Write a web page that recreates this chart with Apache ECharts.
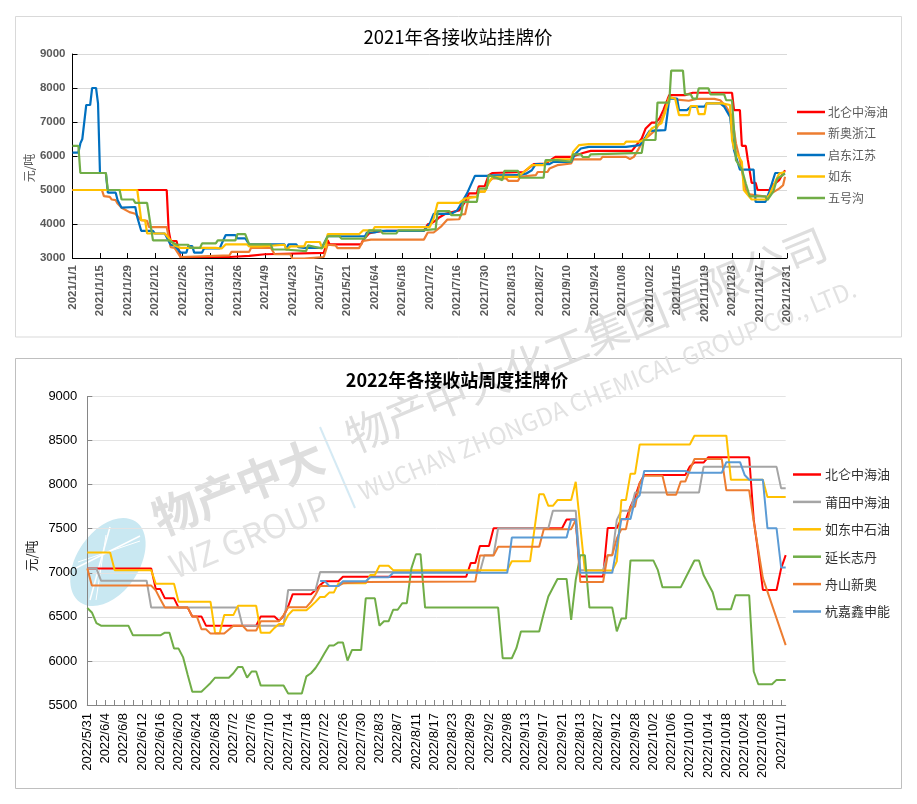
<!DOCTYPE html>
<html><head><meta charset="utf-8">
<script src="https://cdn.jsdelivr.net/npm/echarts@6/dist/echarts.min.js"></script>
<style>html,body{margin:0;padding:0;background:#fff}#c{width:917px;height:804px}</style>
</head><body><div id="c"></div>
<script>
const title2021 = '2021年各接收站挂牌价';
const title2022 = '2022年各接收站周度挂牌价';
const unit = '元/吨';
const ticks2021 = ['2021/1/1','2021/1/15','2021/1/29','2021/2/12','2021/2/26','2021/3/12','2021/3/26','2021/4/9','2021/4/23','2021/5/7','2021/5/21','2021/6/4','2021/6/18','2021/7/2','2021/7/16','2021/7/30','2021/8/13','2021/8/27','2021/9/10','2021/9/24','2021/10/8','2021/10/22','2021/11/5','2021/11/19','2021/12/3','2021/12/17','2021/12/31'];
const ticks2022 = ['2022/5/31','2022/6/4','2022/6/8','2022/6/12','2022/6/16','2022/6/20','2022/6/24','2022/6/28','2022/7/2','2022/7/6','2022/7/10','2022/7/14','2022/7/18','2022/7/22','2022/7/26','2022/7/30','2022/8/3','2022/8/7','2022/8/11','2022/8/17','2022/8/23','2022/8/29','2022/9/2','2022/9/8','2022/9/13','2022/9/17','2022/9/21','2022/8/13','2022/8/27','2022/9/12','2022/9/28','2022/10/2','2022/10/6','2022/10/10','2022/10/14','2022/10/18','2022/10/24','2022/10/28','2022/11/1'];

// 2021: [day index, yuan/ton] at each visible turning point
const beilun21 = [[0,5000],[48,5000],[49,3810],[50,3500],[53,3500],[55,3030],[80,3030],[81,3060],[90,3060],[91,3110],[98,3110],[99,3150],[128,3150],[130,3520],[131,3400],[147,3400],[148,3520],[151,3720],[154,3770],[160,3800],[179,3800],[181,3990],[183,4030],[185,4100],[187,4200],[190,4300],[197,4400],[200,4650],[202,4900],[206,4900],[207,5110],[210,5110],[212,5435],[214,5500],[230,5530],[235,5760],[241,5780],[246,5975],[254,5975],[257,6030],[260,6090],[264,6150],[285,6150],[288,6370],[290,6515],[292,6810],[295,6980],[297,6980],[299,7100],[301,7350],[303,7640],[304,7790],[312,7790],[316,7860],[336,7860],[337,7350],[340,7350],[341,6300],[343,6300],[344,5900],[345,5900],[346,5210],[348,5210],[349,5000],[355,5000],[356,5100],[360,5290],[361,5390],[363,5580]];
const xinao21 = [[0,5000],[15,5000],[16,4820],[19,4800],[20,4720],[22,4700],[23,4600],[25,4480],[29,4350],[32,4300],[35,4110],[38,4090],[39,3910],[48,3910],[50,3320],[52,3300],[55,3030],[80,3080],[81,3180],[90,3180],[91,3300],[101,3300],[103,3110],[111,3110],[112,2980],[118,2980],[119,3030],[128,3030],[130,3390],[134,3370],[135,3290],[146,3290],[148,3500],[152,3540],[179,3540],[181,3750],[184,3750],[188,3940],[191,4130],[197,4140],[198,4280],[200,4290],[202,4800],[206,4800],[207,4950],[210,4950],[212,5240],[214,5340],[221,5340],[222,5270],[227,5270],[228,5390],[236,5435],[237,5530],[242,5530],[243,5630],[247,5730],[248,5780],[254,5780],[255,5900],[269,5900],[270,5975],[282,5975],[284,5910],[286,5975],[289,6270],[291,6470],[294,6610],[297,6760],[301,7200],[304,7740],[308,7660],[314,7625],[318,7680],[327,7680],[330,7640],[333,7450],[336,7150],[338,6370],[340,5880],[343,5000],[344,4880],[354,4800],[356,4900],[360,5040],[362,5140],[363,5390]];
const qidong21 = [[0,6100],[3,6100],[4,6370],[5,6500],[6,6500],[7,7500],[9,7500],[10,8000],[12,8000],[13,7550],[14,5500],[17,5500],[18,4920],[22,4920],[23,4700],[25,4480],[32,4500],[33,4200],[35,3800],[41,3800],[42,3720],[47,3720],[50,3390],[52,3370],[55,3160],[58,3160],[59,3350],[61,3350],[62,3160],[66,3160],[67,3280],[75,3280],[76,3420],[78,3670],[83,3670],[84,3580],[88,3580],[90,3400],[108,3400],[109,3250],[110,3400],[114,3400],[115,3320],[118,3300],[119,3340],[127,3300],[130,3640],[149,3640],[150,3750],[154,3750],[157,3800],[179,3800],[182,4010],[184,4300],[193,4300],[196,4400],[197,4500],[201,4900],[205,5415],[212,5415],[214,5430],[227,5435],[231,5480],[234,5580],[236,5760],[243,5760],[245,5830],[254,5830],[256,6050],[259,6220],[263,6270],[282,6270],[283,6300],[289,6320],[292,6560],[294,6740],[302,6760],[303,7200],[304,7690],[308,7690],[309,7350],[313,7350],[315,7450],[322,7450],[323,7550],[330,7550],[332,7450],[335,7150],[337,6170],[338,6120],[340,5600],[347,5600],[348,4650],[353,4650],[355,4950],[358,5500],[363,5500]];
const rudong21 = [[0,5000],[33,5000],[35,4110],[37,4110],[38,3720],[47,3720],[50,3520],[52,3370],[55,3300],[73,3300],[74,3250],[76,3280],[78,3400],[89,3400],[90,3340],[96,3340],[97,3390],[108,3390],[109,3240],[111,3340],[118,3340],[119,3470],[126,3470],[127,3320],[129,3320],[130,3700],[146,3700],[148,3810],[153,3810],[154,3910],[182,3910],[184,4160],[186,4620],[197,4620],[200,4750],[206,4800],[207,4950],[210,4950],[212,5200],[214,5385],[227,5385],[231,5580],[234,5730],[240,5730],[241,5830],[246,5900],[254,5900],[255,6120],[258,6320],[263,6350],[281,6350],[282,6420],[289,6420],[292,6510],[295,6810],[300,6960],[302,7300],[304,7720],[307,7690],[309,7200],[314,7200],[315,7470],[318,7470],[319,7230],[322,7230],[323,7550],[331,7550],[332,7500],[335,7500],[336,6470],[337,6220],[339,6020],[341,5830],[342,5000],[346,4720],[353,4720],[355,4850],[358,5240],[360,5480],[363,5530]];
const wuhaogou21 = [[0,6300],[3,6300],[4,5500],[17,5500],[18,5000],[24,5000],[25,4720],[31,4720],[32,4620],[38,4620],[41,3520],[49,3520],[53,3390],[59,3390],[60,3300],[65,3300],[66,3430],[73,3430],[74,3520],[83,3520],[84,3700],[88,3700],[90,3400],[101,3400],[102,3250],[108,3250],[109,3200],[119,3200],[120,3370],[127,3280],[130,3640],[136,3640],[137,3570],[149,3570],[151,3810],[157,3810],[158,3720],[165,3720],[166,3810],[178,3810],[179,3850],[185,3850],[186,4380],[192,4380],[193,4260],[198,4260],[199,4650],[206,4650],[207,5040],[211,5040],[212,5440],[219,5290],[220,5560],[227,5560],[228,5360],[240,5360],[241,5880],[247,5880],[248,5830],[254,5830],[255,6050],[259,6050],[260,5970],[263,5970],[264,6050],[290,6090],[291,6470],[297,6470],[298,7570],[304,7570],[305,8510],[311,8510],[312,7810],[315,7810],[316,7690],[318,7690],[319,7990],[324,7990],[325,7810],[332,7810],[333,7640],[336,7640],[337,6760],[338,5880],[341,5610],[343,5190],[345,4815],[353,4815],[354,4700],[357,4950],[359,5330],[363,5480]];

// 2022: [category index, yuan/ton] at each visible turning point
const beilun22 = [[0,7050],[14,7050],[15,6815],[16,6815],[17,6710],[19,6710],[20,6605],[22,6605],[23,6505],[25,6505],[26,6400],[37,6400],[38,6505],[41,6505],[42,6455],[43,6510],[44,6620],[45,6757],[49,6757],[50,6805],[51,6860],[52,6905],[55,6905],[56,6955],[83,6955],[84,7110],[85,7110],[86,7305],[88,7305],[89,7505],[104,7505],[105,7605],[107,7605],[108,6957],[113,6957],[114,7508],[116,7508],[117,7607],[118,7607],[119,7750],[120,7863],[121,8015],[122,8110],[131,8110],[132,8205],[133,8250],[135,8250],[136,8310],[145,8310],[146,7600],[147,7220],[148,6805],[151,6805],[152,7050],[153,7200]];
const putian22 = [[0,7050],[2,7050],[3,6910],[13,6910],[14,6605],[33,6605],[34,6400],[43,6400],[44,6805],[50,6805],[51,7010],[86,7010],[87,7200],[89,7200],[90,7505],[101,7505],[102,7705],[107,7705],[108,7030],[113,7030],[114,7200],[115,7200],[116,7600],[117,7705],[119,7705],[120,7910],[134,7910],[135,8202],[151,8202],[152,7958],[153,7958]];
const rudong22 = [[0,7230],[5,7230],[6,7030],[14,7030],[15,6875],[19,6875],[20,6670],[27,6670],[28,6315],[29,6315],[30,6520],[32,6520],[33,6625],[37,6625],[38,6320],[40,6320],[41,6375],[42,6420],[43,6420],[44,6520],[45,6575],[48,6575],[49,6620],[50,6670],[51,6725],[52,6725],[53,6775],[54,6775],[55,6880],[61,6880],[62,6975],[63,6975],[64,7080],[66,7080],[67,7030],[92,7030],[93,7130],[97,7130],[99,7890],[100,7890],[101,7760],[102,7760],[103,7825],[106,7825],[107,8033],[109,7025],[115,7025],[116,7130],[117,7825],[118,7825],[119,8125],[120,8125],[121,8455],[132,8455],[133,8555],[140,8555],[141,8055],[148,8055],[149,7860],[153,7860]];
const yanchang22 = [[0,6600],[1,6550],[2,6430],[3,6400],[9,6400],[10,6290],[16,6290],[17,6320],[18,6320],[19,6140],[20,6140],[21,6040],[22,5840],[23,5650],[25,5650],[26,5700],[27,5750],[28,5810],[31,5810],[32,5860],[33,5930],[34,5930],[35,5810],[36,5880],[37,5880],[38,5720],[43,5720],[44,5630],[47,5630],[48,5825],[49,5860],[50,5920],[51,6000],[52,6090],[53,6175],[54,6175],[55,6210],[56,6210],[57,6005],[58,6125],[60,6125],[61,6710],[63,6710],[64,6400],[65,6450],[66,6450],[67,6580],[68,6580],[69,6655],[70,6655],[71,7050],[72,7210],[73,7210],[74,6605],[90,6605],[91,6030],[93,6030],[94,6145],[95,6335],[99,6335],[100,6540],[101,6730],[103,6930],[105,6930],[106,6465],[107,6920],[108,7200],[109,7200],[110,6605],[115,6605],[116,6335],[117,6480],[118,6480],[119,7140],[124,7140],[125,7030],[126,6835],[130,6835],[133,7140],[134,7140],[135,6975],[137,6780],[138,6585],[141,6585],[142,6745],[145,6745],[146,5880],[147,5735],[150,5735],[151,5785],[153,5785]];
const zhoushan22 = [[0,7050],[1,6855],[14,6855],[15,6800],[16,6700],[17,6605],[22,6605],[23,6505],[24,6505],[25,6360],[26,6360],[27,6310],[30,6310],[32,6400],[34,6400],[35,6345],[37,6345],[38,6450],[42,6450],[43,6520],[44,6610],[48,6610],[49,6670],[50,6750],[51,6850],[55,6850],[56,6880],[61,6895],[85,6900],[86,7195],[89,7195],[90,7295],[99,7295],[100,7495],[106,7495],[107,7600],[108,6895],[113,6895],[114,7200],[115,7200],[116,7390],[117,7495],[118,7495],[119,7750],[120,7750],[121,8015],[122,8100],[126,8100],[127,7885],[129,7885],[130,8035],[131,8035],[132,8165],[133,8290],[139,8290],[140,7935],[145,7935],[146,7580],[147,7260],[148,6940],[153,6180]];
const hangjia22 = [[51,6908],[52,6908],[53,6850],[55,6850],[56,6905],[61,6905],[62,6950],[66,6950],[67,7000],[92,7000],[93,7400],[105,7400],[106,7605],[107,7605],[108,7000],[115,7000],[116,7300],[117,7610],[119,7610],[120,7825],[121,7880],[122,8155],[131,8155],[132,8135],[139,8135],[140,8255],[143,8255],[144,8110],[145,8055],[148,8055],[149,7505],[151,7505],[152,7060],[153,7060]];

const names21 = ['北仑中海油','新奥浙江','启东江苏','如东','五号沟'];
const data21 = [beilun21, xinao21, qidong21, rudong21, wuhaogou21];
const colors21 = ['#FF0000','#ED7D31','#0070C0','#FFC000','#70AD47'];
const names22 = ['北仑中海油','莆田中海油','如东中石油','延长志丹','舟山新奥','杭嘉鑫申能'];
const data22 = [beilun22, putian22, rudong22, yanchang22, zhoushan22, hangjia22];
const colors22 = ['#FF0000','#A5A5A5','#FFC000','#70AD47','#ED7D31','#5B9BD5'];

function spread(labels, step, total) {
  const out = [];
  for (let i = 0; i < total; i++) out.push(i % step === 0 ? (labels[i / step] || '') : '');
  return out;
}
const cats21 = spread(ticks2021, 14, 365);
const cats22 = spread(ticks2022, 4, 154);

const latin = '"Liberation Sans","Noto Sans CJK SC",sans-serif';
const cjk = '"Noto Sans CJK SC",sans-serif';
const plain = v => String(v);
const wm = (text, x, y, size, weight, fill, rot) => ({
  type: 'text', z: -1, silent: true, x, y, rotation: rot * Math.PI / 180,
  style: { text, x: 0, y: 0, fill, align: 'center', verticalAlign: 'middle',
           font: weight + ' ' + size + 'px ' + cjk }
});
const frame = (x, y, w, h, stroke) => ({
  type: 'rect', z: -2, silent: true, shape: { x, y, width: w, height: h },
  style: { fill: '#fff', stroke, lineWidth: 1 }
});
const vtext = (text, x, y, size, fill) => ({
  type: 'text', silent: true, x, y, rotation: Math.PI / 2,
  style: { text, x: 0, y: 0, fill, align: 'center', verticalAlign: 'middle', font: size + 'px ' + cjk }
});

const chart = echarts.init(document.getElementById('c'), null, { renderer: 'canvas' });
chart.setOption({
  animation: false,
  backgroundColor: '#ffffff',
  graphic: { elements: [
    frame(15.5, 16.5, 886, 320.5, '#D9D9D9'),
    frame(15.5, 358.5, 886, 430, '#BFBFBF'),
    { type: 'ellipse', z: -1, silent: true, x: 108, y: 562, rotation: -0.6,
      shape: { cx: 0, cy: 0, rx: 31, ry: 49 }, style: { fill: '#C9E8F2' } },
    { type: 'line', z: -1, silent: true, shape: { x1: 76, y1: 568, x2: 140, y2: 536 }, style: { stroke: '#fff', lineWidth: 1.5 } },
    { type: 'line', z: -1, silent: true, shape: { x1: 78, y1: 562, x2: 140, y2: 541 }, style: { stroke: '#fff', lineWidth: 1 } },
    { type: 'line', z: -1, silent: true, shape: { x1: 90, y1: 600, x2: 110, y2: 527 }, style: { stroke: '#fff', lineWidth: 1.5 } },
    { type: 'line', z: -1, silent: true, shape: { x1: 96, y1: 600, x2: 106, y2: 535 }, style: { stroke: '#fff', lineWidth: 1 } },
    wm('物产中大', 238, 487, 45, 'bold', '#DEDEDE', 22),
    wm('WZ GROUP', 249, 536, 33, 'normal', '#E2E2E2', 22),
    { type: 'line', z: -1, silent: true, shape: { x1: 320, y1: 427, x2: 355, y2: 508 }, style: { stroke: '#D5EAF4', lineWidth: 2 } },
    wm('物产中大化工集团有限公司', 586, 340, 43, 'normal', '#DEDEDE', 22.5),
    wm('WUCHAN ZHONGDA CHEMICAL GROUP CO., LTD.', 607, 390, 24, 'normal', '#E2E2E2', 22.5),
    vtext(unit, 29, 168, 12, '#595959'),
    vtext(unit, 31, 556, 13, '#222222')
  ] },
  title: [
    { text: title2021, left: 458, top: 37, padding: 0, textAlign: 'center', textVerticalAlign: 'middle',
      textStyle: { fontFamily: cjk, fontSize: 18.5, fontWeight: 'normal', color: '#000' } },
    { text: title2022, left: 457, top: 380, padding: 0, textAlign: 'center', textVerticalAlign: 'middle',
      textStyle: { fontFamily: cjk, fontSize: 18, fontWeight: 'bold', color: '#000' } }
  ],
  legend: [
    { data: names21, orient: 'vertical', left: 797, top: 106, padding: 0, itemWidth: 28, itemHeight: 2.5, itemGap: 9.5,
      icon: 'rect', selectedMode: false, textStyle: { fontFamily: cjk, fontSize: 12, color: '#595959', padding: [0,0,0,-2] } },
    { data: names22, orient: 'vertical', left: 793, top: 468, padding: 0, itemWidth: 28, itemHeight: 2.5, itemGap: 14.4,
      icon: 'rect', selectedMode: false, textStyle: { fontFamily: cjk, fontSize: 13, color: '#333333', padding: [0,0,0,-1] } }
  ],
  grid: [
    { left: 72.5, top: 54, width: 714.5, height: 204 },
    { left: 87.3, top: 396.5, width: 698.4, height: 308.5 }
  ],
  xAxis: [
    { type: 'category', gridIndex: 0, data: cats21, boundaryGap: false,
      axisLine: { lineStyle: { color: '#000', width: 1 } },
      axisTick: { inside: true, length: 5, interval: 13, lineStyle: { color: '#000' } },
      axisLabel: { interval: 13, rotate: 90, margin: 7, fontFamily: latin, fontSize: 11.5, fontWeight: 'bold', color: '#595959', hideOverlap: false },
      splitLine: { show: false } },
    { type: 'category', gridIndex: 1, data: cats22, boundaryGap: false,
      axisLine: { lineStyle: { color: '#868686', width: 1 } },
      axisTick: { inside: true, length: 5, interval: 1, lineStyle: { color: '#868686' } },
      axisLabel: { interval: 3, rotate: 90, margin: 8, fontFamily: latin, fontSize: 13, color: '#000', hideOverlap: false },
      splitLine: { show: false } }
  ],
  yAxis: [
    { type: 'value', gridIndex: 0, min: 3000, max: 9000, interval: 1000,
      axisLine: { show: true, lineStyle: { color: '#000', width: 1 } },
      axisTick: { show: true, inside: true, length: 5, lineStyle: { color: '#000' } },
      axisLabel: { margin: 7, formatter: plain, fontFamily: latin, fontSize: 11.5, fontWeight: 'bold', color: '#595959' },
      splitLine: { show: true, lineStyle: { color: '#D9D9D9', width: 1 } } },
    { type: 'value', gridIndex: 1, min: 5500, max: 9000, interval: 500,
      axisLine: { show: true, lineStyle: { color: '#868686', width: 1 } },
      axisTick: { show: true, inside: true, length: 5, lineStyle: { color: '#868686' } },
      axisLabel: { margin: 10, formatter: plain, fontFamily: latin, fontSize: 13, color: '#000' },
      splitLine: { show: true, lineStyle: { color: '#E3E3E3', width: 1 } } }
  ],
  series: [
    ...names21.map((name, k) => ({
      name, type: 'line', xAxisIndex: 0, yAxisIndex: 0, data: data21[k],
      showSymbol: false, symbol: 'none', clip: true, itemStyle: { color: colors21[k] },
      lineStyle: { color: colors21[k], width: 2.2 }
    })),
    ...names22.map((name, k) => ({
      name, type: 'line', xAxisIndex: 1, yAxisIndex: 1, data: data22[k],
      showSymbol: false, symbol: 'none', clip: true, itemStyle: { color: colors22[k] },
      lineStyle: { color: colors22[k], width: 2 }
    }))
  ]
});
</script></body></html>
